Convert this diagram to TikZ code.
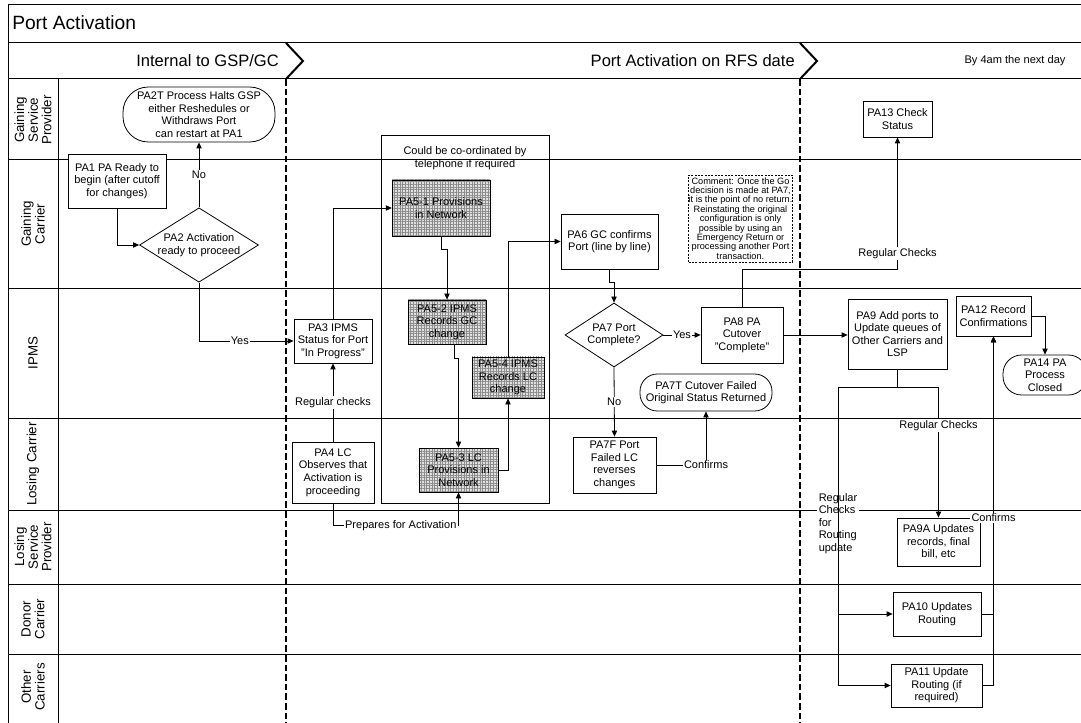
\documentclass[tikz,border=0pt]{standalone}
\usepackage{fontspec}
\setmainfont{Liberation Sans}
\usetikzlibrary{arrows.meta,shapes.geometric,patterns.meta,calc}
\newcommand\bxf{\fontsize{8.25}{9.4}\selectfont}
\newcommand\cmf{\fontsize{6.9}{7.05}\selectfont}
\newcommand\lnf{\fontsize{10}{10.2}\selectfont}
\newcommand\ttlf{\fontsize{14.4}{16}\selectfont}
\newcommand\phf{\fontsize{12.4}{14}\selectfont}
\newcommand\smf{\fontsize{8.3}{10}\selectfont}
\begin{document}
\begin{tikzpicture}[x=0.75pt,y=-0.75pt,
  sz/.style 2 args={minimum width=#1*0.75pt,minimum height=#2*0.75pt},
  bx/.style={draw,fill=white,align=center,font=\bxf,inner sep=0pt,line width=0.6pt},
  hx/.style={bx,preaction={fill=black!12},pattern={Hatch[angle=0,distance=2pt,line width=0.3pt]},pattern color=black!45},
  term/.style={bx,rounded corners=#1},
  dia/.style={bx,diamond},
  cmt/.style={draw,fill=white,align=center,font=\cmf,inner sep=0pt,line width=0.5pt,dash pattern=on 1.5pt off 1pt},
  con/.style={line width=0.6pt,-{Triangle[length=4.5pt,width=4pt]}},
  lin/.style={line width=0.6pt},
  lbl/.style={fill=white,inner sep=1pt,font=\bxf},
  lane/.style={line width=0.75pt},
  phase/.style={line width=1.5pt},
  sepline/.style={line width=1.6pt,dash pattern=on 5pt off 2.2pt},
  lanelbl/.style={rotate=90,align=center,font=\lnf,inner sep=0pt}]
\useasboundingbox (0,0) rectangle (1081,723);
\clip (0,0) rectangle (1081,723);
\fill[white] (0,0) rectangle (1081,723);
% frame and lanes
\draw[lane] (1081,5) -- (8,5) -- (8,723);
\foreach \yy in {43,79,160,289,418,510,584,654} \draw[lane] (8,\yy) -- (1081,\yy);
\draw[lane] (58,79) -- (58,723);
% phase chevrons and separators
\draw[phase] (286,43) -- (303,61) -- (286,79);
\draw[phase] (800,43) -- (817,61) -- (800,79);
\draw[sepline] (286,79) -- (286,723);
\draw[sepline] (800,79) -- (800,723);
% titles
\node[anchor=west,font=\ttlf,inner sep=0pt] (title) at (12,23) {Port Activation};
\node[anchor=east,font=\phf,inner sep=0pt] (ph1) at (279,61) {Internal to GSP/GC};
\node[anchor=east,font=\phf,inner sep=0pt] (ph2) at (795,61) {Port Activation on RFS date};
\node[font=\smf,inner sep=0pt] (ph3) at (1015,61) {By 4am the next day};
% lane labels
\node[lanelbl] (L1) at (33,120) {Gaining\\Service\\Provider};
\node[lanelbl] (L2) at (33,224) {Gaining\\Carrier};
\node[lanelbl] (L3) at (33,353) {IPMS};
\node[lanelbl] (L4) at (33,464) {Losing Carrier};
\node[lanelbl] (L5) at (33,547) {Losing\\Service\\Provider};
\node[lanelbl] (L6) at (33,619) {Donor\\Carrier};
\node[lanelbl] (L7) at (33,687) {Other\\Carriers};
% container
\node[draw,line width=0.6pt,sz={168}{368},inner sep=0pt] (cont) at (465,319) {};
\node[font=\bxf,align=center,inner sep=0pt] (conttxt) at (465,158) {Could be co-ordinated by\\telephone if required};
% nodes
\node[term=19pt,sz={152}{55}] (PA2T) at (199,114.5) {PA2T Process Halts GSP\\either Reshedules or\\Withdraws Port\\can restart at PA1};
\node[bx,sz={98}{54}] (PA1) at (117,181) {PA1 PA Ready to\\begin (after cutoff\\for changes)};
\node[dia,aspect=1.6,sz={119}{74}] (PA2) at (199,245) {PA2 Activation\\ready to proceed};
\node[bx,sz={78}{44}] (PA3) at (333,341) {PA3 IPMS\\Status for Port\\"In Progress"};
\node[bx,sz={82}{61}] (PA4) at (333,472.5) {PA4 LC\\Observes that\\Activation is\\proceeding};
\node[hx,sz={98}{56}] (PA51) at (441,208) {PA5-1 Provisions\\in Network};
\node[hx,sz={78}{44}] (PA52) at (447,322) {PA5-2 IPMS\\Records GC\\change};
\node[hx,sz={79}{44}] (PA53) at (458.5,470) {PA5-3 LC\\Provisions in\\Network};
\node[hx,sz={72}{41}] (PA54) at (508,377.5) {PA5-4 IPMS\\Records LC\\change};
\node[bx,sz={97}{55}] (PA6) at (609.5,241.5) {PA6 GC confirms\\Port (line by line)};
\node[cmt,sz={103}{87}] (CMT) at (740.5,218.5) {Comment: Once the Go\\decision is made at PA7,\\it is the point of no return.\\Reinstating the original\\configuration is only\\possible by using an\\Emergency Return or\\processing another Port\\transaction.};
\node[dia,aspect=1.53,sz={98}{64}] (PA7) at (614,335) {PA7 Port\\Complete?};
\node[bx,sz={82}{56}] (PA8) at (742,335) {PA8 PA\\Cutover\\"Complete"};
\node[term=13pt,sz={132}{37}] (PA7T) at (706,392.5) {PA7T Cutover Failed\\Original Status Returned};
\node[bx,sz={83}{56}] (PA7F) at (614.5,465) {PA7F Port\\Failed LC\\reverses\\changes};
\node[bx,sz={69}{36}] (PA13) at (897.5,119) {PA13 Check\\Status};
\node[bx,sz={99}{70}] (PA9) at (897.5,334) {PA9 Add ports to\\Update queues of\\Other Carriers and\\LSP};
\node[bx,sz={75}{40}] (PA12) at (993.5,316) {PA12 Record\\Confirmations};
\node[term=14pt,sz={84}{40}] (PA14) at (1045,375) {PA14 PA\\Process\\Closed};
\node[bx,sz={83}{48}] (PA9A) at (938.5,542) {PA9A Updates\\records, final\\bill, etc};
\node[bx,sz={88}{44}] (PA10) at (937,614) {PA10 Updates\\Routing};
\node[bx,sz={91}{43}] (PA11) at (936.5,685.5) {PA11 Update\\Routing (if\\required)};
% connectors
\draw[con] (PA1.south) |- (PA2.west);
\draw[con] (PA2.north) -- (PA2T.south) node[lbl,pos=0.5] (lNo1) {No};
\draw[con] (PA2.south) |- (PA3.west) node[lbl,pos=0.716] (lYes1) {Yes};
\draw[con] (PA3.north) |- (PA51.west);
\draw[con] (PA51.south) -- ++(0,13) -| (PA52.north);
\draw[con] ([xshift=5.25pt]PA52.south) -- ++(0,14) -| (PA53.north);
\draw[con] (PA53.east) -| (PA54.south);
\draw[con] (PA54.north) |- (PA6.west);
\draw[con] (PA4.north) -- (PA3.south) node[lbl,pos=0.5] (lReg1) {Regular checks};
\draw[con] (PA4.south) -- ++(0,22) -| (PA53.south) node[lbl,pos=0.27] (lPrep) {Prepares for Activation};
\draw[con] (PA6.south) -- ++(0,13) -| (PA7.north);
\draw[con] (PA7.east) -- (PA8.west) node[lbl,pos=0.5] (lYes2) {Yes};
\draw[con] (PA7.south) -- (PA7F.north) node[lbl,pos=0.5] (lNo2) {No};
\draw[con] (PA7F.east) -| (PA7T.south) node[lbl,pos=0.5] (lConf1) {Confirms};
\draw[con] (PA8.north) -- ++(0,-37) -| (PA13.south) node[lbl,pos=0.56] (lReg2) {Regular Checks};
\draw[con] (PA8.east) -- (PA8.east -| PA9.west);
\draw[con] (PA9.south) -- ++(0,18) -| (PA9A.north) node[lbl,pos=0.645] (lReg3) {Regular Checks};
\draw[con] (PA9.south) -- ++(0,18) -- ++(-59.5,0) |- (PA10.west) node[lbl,pos=0.3,align=left] (lReg4) {Regular\\Checks\\for\\Routing\\update};
\draw[con] (PA9.south) -- ++(0,18) -- ++(-59.5,0) |- (PA11.west);
\draw[con] (PA10.east) -| (PA12.south);
\draw[con] (PA11.east) -| (PA12.south) node[lbl,pos=0.74] (lConf2) {Confirms};
\draw[con] (PA12.east) -| (PA14.north);
\end{tikzpicture}
\end{document}
